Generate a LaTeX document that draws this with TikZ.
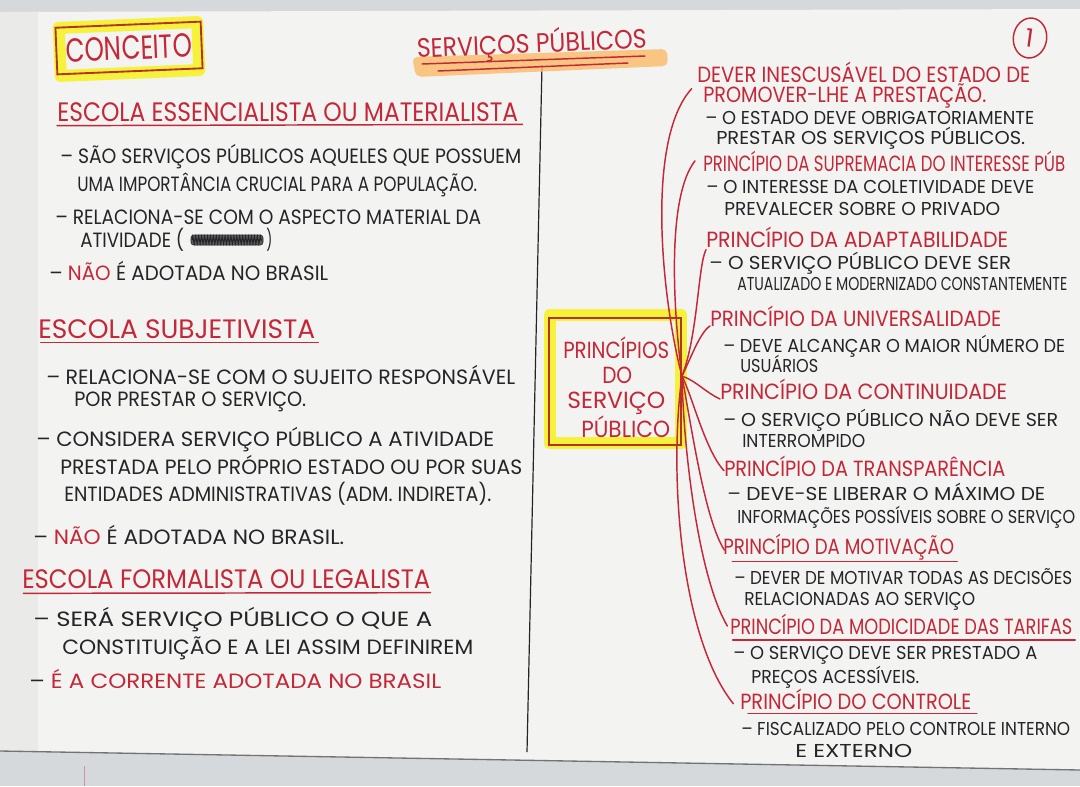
\documentclass[tikz,border=0pt]{standalone}
\usepackage{fontspec}
\usepackage{graphicx}
\setmainfont{Poppins}
\usetikzlibrary{decorations.pathmorphing,shapes.geometric}

\definecolor{backdrop}{RGB}{214,217,219}
\definecolor{paper}{RGB}{243,243,242}
\definecolor{ink}{RGB}{38,36,40}
\definecolor{redink}{RGB}{196,40,56}
\definecolor{boxred}{RGB}{178,52,38}
\definecolor{hlyellow}{RGB}{246,241,58}
\definecolor{hlorange}{RGB}{250,186,104}

% set a line of lettering to a given width (in 0.75pt units)
\newsavebox\fitbox
\newcommand\fitw[2]{\sbox\fitbox{#2}\pgfmathsetmacro\fitr{#1*0.75/\wd\fitbox}\scalebox{\fitr}[1]{\usebox\fitbox}}
\newcommand\rd[1]{\textcolor{redink}{#1}}

\tikzset{
  txt/.style={inner sep=0pt, anchor=base west},
  lhead/.style={txt, text=redink, font=\fontsize{20}{20}\selectfont},
  lbody/.style={txt, text=ink, font=\fontsize{15.5}{15.5}\selectfont},
  rhead/.style={txt, text=redink, font=\fontsize{16.5}{16.5}\selectfont},
  rbody/.style={txt, text=ink, font=\fontsize{14}{14}\selectfont},
  boxtxt/.style={txt, text=redink, font=\fontsize{17.5}{17.5}\selectfont},
  uline/.style={draw=redink, line width=1.1pt, line cap=round},
  branch/.style={draw=redink, line width=1.1pt, line cap=round},
  hilite/.style={draw=hlyellow, line width=9pt, line join=round},
  frame/.style={draw=boxred, line width=1.4pt},
  divider/.style={draw=ink, line width=0.9pt},
}

\begin{document}
\begin{tikzpicture}[x=0.75pt,y=-0.75pt]
\useasboundingbox (0,0) rectangle (1080,786);

% sheet and surroundings
\fill[backdrop] (0,0) rectangle (1080,786);
\fill[paper] (0,12) -- (1080,9) -- (1080,770) -- (0,751) -- cycle;
\fill[black,opacity=0.035] (0,12) rectangle (38,751);
\draw[black!55, line width=1pt] (0,751) -- (1080,770);
\draw[redink!40!backdrop, line width=0.7pt] (84,766) -- (84,786);

% column divider
\coordinate (divtop) at (542,65);
\coordinate (divbot) at (527,752);
\draw[divider] (divtop) -- (divbot);

% title
\fill[hlorange, opacity=0.8, rounded corners=4pt] (412,57) -- (667,49) -- (668,66) -- (416,77) -- cycle;
\node[txt, text=redink, font=\fontsize{20}{20}\selectfont, rotate=2.5] (title) at (417,58) {\fitw{230}{SERVIÇOS PÚBLICOS}};
\draw[uline] (422,64) -- (645,56);
\draw[uline] (438,71) -- (628,63);

% page number
\node[draw=redink, line width=1.1pt, ellipse, inner sep=0pt,
      minimum width=25pt, minimum height=30pt, text=redink, font=\fontsize{19}{19}\selectfont, rotate=-8] (pagenum) at (1030,38) {1};

% ---------------- left column ----------------
\node[hilite, rectangle, minimum width=104pt, minimum height=36pt, rotate=2.4] (conceitohl) at (129,49) {};
\node[frame, rectangle, minimum width=109pt, minimum height=35pt, rotate=2.4, inner sep=0pt,
      text=redink, font=\fontsize{25}{25}\selectfont] (conceito) at (129,48) {\fitw{126}{CONCEITO}};

\node[lhead] (hA) at (57,121) {\fitw{461}{ESCOLA ESSENCIALISTA OU MATERIALISTA}};
\draw[uline] ([yshift=-3.5pt]hA.base west) -- ([xshift=3pt,yshift=-2.5pt]hA.base east);
\node[lbody] (a1) at (60,163) {\fitw{461}{– SÃO SERVIÇOS PÚBLICOS AQUELES QUE POSSUEM}};
\node[lbody] (a2) at (77,191) {\fitw{400}{UMA IMPORTÂNCIA CRUCIAL PARA A POPULAÇÃO.}};
\node[lbody] (a3) at (55,224) {\fitw{426}{– RELACIONA-SE COM O ASPECTO MATERIAL DA}};
\node[lbody] (a4) at (80,247) {\fitw{104}{ATIVIDADE (}};
\node[draw=ink, fill=ink!75, rounded corners=2pt, minimum width=54pt, minimum height=7.5pt, inner sep=0pt] (scribble) at (227,240) {};
\draw[ink, line width=0.8pt, decorate, decoration={zigzag, segment length=2.2pt, amplitude=2.6pt}]
  ([xshift=1pt]scribble.west) -- ([xshift=-1pt]scribble.east);
\node[lbody] (a4b) at (266,247) {\fitw{6}{)}};
\node[lbody] (a5) at (49,280) {\fitw{279}{– \rd{NÃO} É ADOTADA NO BRASIL}};

\node[lhead] (hB) at (38,338) {\fitw{277}{ESCOLA SUBJETIVISTA}};
\draw[uline] ([xshift=2pt,yshift=-3.5pt]hB.base west) -- ([xshift=2pt,yshift=-3.5pt]hB.base east);
\node[lbody] (b1) at (46,384) {\fitw{469}{– RELACIONA-SE COM O SUJEITO RESPONSÁVEL}};
\node[lbody] (b2) at (74,406) {\fitw{232}{POR PRESTAR O SERVIÇO.}};
\node[lbody] (b3) at (36,446) {\fitw{458}{– CONSIDERA SERVIÇO PÚBLICO A ATIVIDADE}};
\node[lbody] (b4) at (60,474) {\fitw{462}{PRESTADA PELO PRÓPRIO ESTADO OU POR SUAS}};
\node[lbody] (b5) at (64,501) {\fitw{427}{ENTIDADES ADMINISTRATIVAS (ADM. INDIRETA).}};
\node[lbody] (b6) at (33,544) {\fitw{311}{– \rd{NÃO} É ADOTADA NO BRASIL.}};

\node[lhead] (hC) at (22,588) {\fitw{408}{ESCOLA FORMALISTA OU LEGALISTA}};
\draw[uline] ([xshift=1pt,yshift=-4pt]hC.base west) -- ([yshift=-3.5pt]hC.base east);
\node[lbody] (c1) at (33,626) {\fitw{399}{– SERÁ SERVIÇO PÚBLICO O QUE A}};
\node[lbody] (c2) at (62,654) {\fitw{411}{CONSTITUIÇÃO E A LEI ASSIM DEFINIREM}};
\node[lbody] (c3) at (29,688) {\fitw{412}{– \rd{É A CORRENTE ADOTADA NO BRASIL}}};

% ---------------- right column ----------------
\node[hilite, rectangle, minimum width=98pt, minimum height=96pt] (pboxhl) at (615.5,379) {};
\node[frame, rectangle, minimum width=99pt, minimum height=95pt] (pbox) at (615,381.5) {};
\node[boxtxt] (bx1) at (563,358) {\fitw{106}{PRINCÍPIOS}};
\node[boxtxt] (bx2) at (602,383) {\fitw{30}{DO}};
\node[boxtxt] (bx3) at (567,408) {\fitw{98}{SERVIÇO}};
\node[boxtxt] (bx4) at (581,437) {\fitw{89}{PÚBLICO}};
\coordinate (hub) at ([yshift=4pt]pbox.east);

\node[rhead] (d1) at (697,82) {\fitw{333}{DEVER INESCUSÁVEL DO ESTADO DE}};
\node[rhead] (d2) at (703,102) {\fitw{283}{PROMOVER-LHE A PRESTAÇÃO.}};
\node[rbody] (d3) at (705,124) {\fitw{329}{– O ESTADO DEVE OBRIGATORIAMENTE}};
\node[rbody] (d4) at (716,144) {\fitw{309}{PRESTAR OS SERVIÇOS PÚBLICOS.}};

\node[rhead] (p2) at (703,171) {\fitw{362}{PRINCÍPIO DA SUPREMACIA DO INTERESSE PÚB}};
\node[rbody] (e1) at (706,193) {\fitw{328}{– O INTERESSE DA COLETIVIDADE DEVE}};
\node[rbody] (e2) at (724,215) {\fitw{276}{PREVALECER SOBRE O PRIVADO}};

\node[rhead] (p3) at (706,247) {\fitw{302}{PRINCÍPIO DA ADAPTABILIDADE}};
\node[rbody] (f1) at (709,269) {\fitw{302}{– O SERVIÇO PÚBLICO DEVE SER}};
\node[rbody] (f2) at (737,290) {\fitw{330}{ATUALIZADO E MODERNIZADO CONSTANTEMENTE}};

\node[rhead] (p4) at (710,326) {\fitw{291}{PRINCÍPIO DA UNIVERSALIDADE}};
\node[rbody] (g1) at (723,352) {\fitw{342}{– DEVE ALCANÇAR O MAIOR NÚMERO DE}};
\node[rbody] (g2) at (740,372) {\fitw{78}{USUÁRIOS}};

\node[rhead] (p5) at (720,399) {\fitw{287}{PRINCÍPIO DA CONTINUIDADE}};
\node[rbody] (i1) at (723,426) {\fitw{335}{– O SERVIÇO PÚBLICO NÃO DEVE SER}};
\node[rbody] (i2) at (742,447) {\fitw{123}{INTERROMPIDO}};

\node[rhead] (p6) at (724,476) {\fitw{281}{PRINCÍPIO DA TRANSPARÊNCIA}};
\node[rbody] (j1) at (727,500) {\fitw{318}{– DEVE-SE LIBERAR O MÁXIMO DE}};
\node[rbody] (j2) at (737,523) {\fitw{338}{INFORMAÇÕES POSSÍVEIS SOBRE O SERVIÇO}};

\node[rhead] (p7) at (723,554) {\fitw{231}{PRINCÍPIO DA MOTIVAÇÃO}};
\draw[uline] ([xshift=7pt,yshift=-5.5pt]p7.base west) -- ([xshift=2pt,yshift=-5.5pt]p7.base east);
\node[rbody] (k1) at (734,584) {\fitw{338}{– DEVER DE MOTIVAR TODAS AS DECISÕES}};
\node[rbody] (k2) at (744,605) {\fitw{231}{RELACIONADAS AO SERVIÇO}};

\node[rhead] (p8) at (730,634) {\fitw{342}{PRINCÍPIO DA MODICIDADE DAS TARIFAS}};
\draw[uline] ([xshift=2pt,yshift=-4.5pt]p8.base west) -- ([xshift=2pt,yshift=-4.5pt]p8.base east);
\node[rbody] (m1) at (733,659) {\fitw{304}{– O SERVIÇO DEVE SER PRESTADO A}};
\node[rbody] (m2) at (751,683) {\fitw{168}{PREÇOS ACESSÍVEIS.}};

\node[rhead] (p9) at (740,709) {\fitw{231}{PRINCÍPIO DO CONTROLE}};
\draw[uline] ([xshift=6pt,yshift=-3.5pt]p9.base west) -- ([xshift=4pt,yshift=-3.5pt]p9.base east);
\node[rbody] (n1) at (741,735) {\fitw{329}{– FISCALIZADO PELO CONTROLE INTERNO}};
\node[rbody] (n2) at (795,757) {\fitw{117}{E EXTERNO}};

% branches from the central box to each principle
\draw[branch] (hub) .. controls (662,300) and (645,140) .. ([xshift=-4pt,yshift=-5pt]d1.base west);
\draw[branch] (hub) .. controls (672,300) and (668,195) .. ([xshift=-6pt]p2.west);
\draw[branch] (hub) .. controls (698,335) and (698,265) .. ([yshift=-2pt]p3.base west);
\draw[branch] (hub) .. controls (690,360) and (700,332) .. (p4.base west);
\draw[branch] (hub) .. controls (695,380) and (705,392) .. (p5.base west);
\draw[branch] (hub) .. controls (692,395) and (705,450) .. ([yshift=4pt]p6.base west);
\draw[branch] (hub) .. controls (692,430) and (705,520) .. ([xshift=1pt,yshift=3pt]p7.base west);
\draw[branch] (hub) .. controls (684,460) and (700,580) .. ([xshift=-2pt,yshift=6pt]p8.base west);
\draw[branch] (hub) .. controls (668,480) and (682,640) .. ([xshift=-5pt,yshift=4pt]p9.base west);

\end{tikzpicture}
\end{document}
